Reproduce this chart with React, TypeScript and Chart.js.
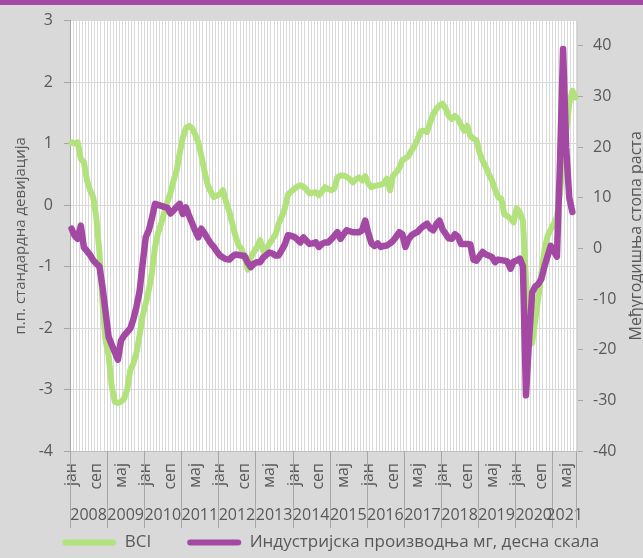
import { useEffect, useRef } from 'react';
import { Chart, registerables } from 'chart.js';

Chart.register(...registerables);

const MONTH_NAMES = ['јан', 'феб', 'мар', 'апр', 'мај', 'јун', 'јул', 'авг', 'сеп', 'окт', 'нов', 'дец'];
const YEARS = ['2008', '2009', '2010', '2011', '2012', '2013', '2014', '2015', '2016', '2017', '2018', '2019', '2020', '2021'];
const N_MONTHS = 164; // Jan 2008 – Aug 2021
const categories = Array.from({ length: N_MONTHS }, (_, i) => MONTH_NAMES[i % 12]);

const bci = [
  1.02, 1.00, 1.02, 0.75, 0.70, 0.40, 0.24, 0.13, -0.20, -0.75, -1.60, -2.20,
  -2.45, -2.95, -3.20, -3.22, -3.20, -3.15, -3.00, -2.68, -2.58, -2.40, -2.12, -1.80,
  -1.60, -1.38, -1.10, -0.68, -0.45, -0.30, -0.12, 0.05, 0.20, 0.40, 0.56, 0.85,
  1.10, 1.25, 1.29, 1.25, 1.15, 1.02, 0.80, 0.55, 0.33, 0.22, 0.13, 0.15,
  0.18, 0.24, 0.05, -0.10, -0.30, -0.50, -0.65, -0.72, -0.85, -1.05, -0.85, -0.76,
  -0.68, -0.57, -0.74, -0.70, -0.63, -0.55, -0.48, -0.30, -0.19, -0.05, 0.17, 0.22,
  0.26, 0.30, 0.32, 0.30, 0.25, 0.19, 0.20, 0.21, 0.16, 0.22, 0.29, 0.26,
  0.24, 0.27, 0.45, 0.48, 0.48, 0.46, 0.42, 0.37, 0.42, 0.45, 0.40, 0.47,
  0.35, 0.29, 0.31, 0.32, 0.33, 0.35, 0.43, 0.24, 0.48, 0.53, 0.60, 0.73,
  0.76, 0.80, 0.89, 0.97, 1.08, 1.20, 1.21, 1.19, 1.35, 1.48, 1.56, 1.62,
  1.65, 1.57, 1.45, 1.40, 1.45, 1.40, 1.30, 1.21, 1.29, 1.12, 1.08, 1.05,
  0.85, 0.72, 0.62, 0.50, 0.40, 0.25, 0.13, 0.10, -0.15, -0.18, -0.22, -0.28,
  -0.05, -0.12, -0.25, -1.20, -1.90, -2.25, -1.87, -1.50, -1.10, -0.72, -0.50, -0.40,
  -0.30, -0.19, 0.20, 0.75, 1.20, 1.65, 1.86, 1.75,
];

const industrialProduction = [
  3.9, 2.5, 1.9, 4.5, 0.2, -0.5, -1.3, -2.3, -3.0, -3.5, -7.5, -12.5,
  -17.5, -19.0, -20.5, -22.0, -18.2, -17.2, -16.5, -15.8, -14.0, -11.5, -8.5, -3.0,
  2.2, 3.6, 6.0, 8.8, 8.6, 8.4, 8.2, 8.0, 6.9, 7.5, 8.2, 8.8,
  6.8, 8.1, 6.5, 5.0, 3.5, 2.2, 3.9, 3.0, 2.0, 1.0, 0.3, -0.6,
  -1.4, -1.8, -2.1, -2.2, -1.6, -1.2, -1.3, -1.4, -1.5, -2.8, -3.7, -3.0,
  -2.7, -2.7, -1.8, -1.3, -0.8, -1.0, -1.4, -1.4, -0.3, 0.8, 2.6, 2.5,
  2.3, 1.8, 1.2, 2.2, 1.5, 0.9, 1.0, 1.2, 0.3, 0.9, 1.2, 1.2,
  1.8, 2.5, 3.2, 1.9, 2.8, 3.6, 3.4, 3.2, 3.2, 3.2, 3.6, 5.5,
  3.0, 1.0, 0.5, 1.0, 0.3, 0.5, 0.6, 1.0, 1.5, 2.3, 3.2, 2.8,
  0.3, 1.8, 2.6, 3.0, 3.3, 4.0, 4.5, 4.9, 4.0, 3.6, 4.8, 5.5,
  3.8, 2.9, 2.0, 1.9, 2.8, 2.3, 0.9, 0.9, 0.9, 0.8, -2.2, -2.4,
  -1.5, -0.7, -1.2, -1.4, -1.7, -2.7, -2.2, -2.3, -2.4, -2.6, -4.0, -2.6,
  -2.4, -2.0, -3.5, -29.0, -18.0, -8.7, -7.5, -7.0, -6.0, -3.5, -1.5, 0.5,
  -0.5, -1.6, 17.0, 39.4, 20.0, 10.0, 7.2, null,
];

const leftTicks = [-4, -3, -2, -1, 0, 1, 2, 3];
const rightTicks = [-40, -30, -20, -10, 0, 10, 20, 30, 40];

const BCI_LABEL = 'BCI';
const IP_LABEL = 'Индустријска производња мг, десна скала';
const LEFT_TITLE = 'п.п. стандардна девијација';
const RIGHT_TITLE = 'Међугодишња стопа раста';

const FONT = 'Open Sans';
const TEXT = '#595959';
const GREEN = '#b2e27b';
const PURPLE = '#a349a4';
const PAD_LEFT = 18.5;

const framePlugin = {
  id: 'frame',
  beforeDraw(chart: any) {
    const { ctx, chartArea: a, width, height } = chart;
    ctx.save();
    ctx.fillStyle = '#d9d9d9';
    ctx.fillRect(0, 0, width, height);
    ctx.fillStyle = PURPLE;
    ctx.fillRect(0, 0, width, 5);
    ctx.fillStyle = '#ffffff';
    ctx.fillRect(a.left, a.top, a.right - a.left, a.bottom - a.top);
    ctx.restore();
  },
  afterDraw(chart: any) {
    const { ctx, chartArea: a } = chart;
    const xs = chart.scales.x;
    const n = categories.length;
    const boundary = (i: number) =>
      i <= 0 ? a.left : i >= n ? a.right : (xs.getPixelForValue(i - 1) + xs.getPixelForValue(i)) / 2;
    ctx.save();
    ctx.strokeStyle = '#a6a6a6';
    ctx.lineWidth = 1;
    ctx.font = `16px "${FONT}"`;
    ctx.fillStyle = TEXT;
    ctx.textAlign = 'center';
    ctx.textBaseline = 'middle';
    YEARS.forEach((y, k) => {
      const s = boundary(k * 12);
      const e = boundary(Math.min((k + 1) * 12, n));
      ctx.beginPath();
      ctx.moveTo(Math.round(s) + 0.5, a.bottom);
      ctx.lineTo(Math.round(s) + 0.5, 528);
      ctx.stroke();
      ctx.fillText(y, (s + e) / 2, 515);
    });
    ctx.beginPath();
    ctx.moveTo(Math.round(a.right) - 0.5, a.bottom);
    ctx.lineTo(Math.round(a.right) - 0.5, 528);
    ctx.stroke();

    ctx.translate(636, (a.top + a.bottom) / 2);
    ctx.rotate(-Math.PI / 2);
    ctx.fillText(RIGHT_TITLE, 0, 0);
    ctx.restore();
  },
};

export default function App() {
  const ref = useRef<HTMLCanvasElement>(null);
  useEffect(() => {
    document.body.style.margin = '0';
    const chart = new Chart(ref.current as HTMLCanvasElement, {
      type: 'line',
      data: {
        labels: categories,
        datasets: [
          {
            label: BCI_LABEL,
            data: bci,
            borderColor: GREEN,
            backgroundColor: GREEN,
            borderWidth: 6,
            pointRadius: 0,
            tension: 0,
            borderJoinStyle: 'round',
            borderCapStyle: 'round',
            yAxisID: 'y',
            order: 1,
          },
          {
            label: IP_LABEL,
            data: industrialProduction,
            borderColor: PURPLE,
            backgroundColor: PURPLE,
            borderWidth: 6.5,
            pointRadius: 0,
            tension: 0,
            borderJoinStyle: 'round',
            borderCapStyle: 'round',
            yAxisID: 'y1',
            order: 0,
          },
        ],
      },
      options: {
        responsive: false,
        animation: false,
        layout: { padding: { top: 20, left: PAD_LEFT, right: 0, bottom: 0 } },
        plugins: {
          tooltip: { enabled: false },
          legend: {
            position: 'bottom',
            maxHeight: 60,
            labels: {
              boxWidth: 54,
              boxHeight: 6,
              padding: 36,
              color: TEXT,
              font: { family: FONT, size: 17 },
              generateLabels: (c: any) =>
                c.data.datasets.map((ds: any, i: number) => ({
                  text: ds.label,
                  fillStyle: ds.borderColor,
                  strokeStyle: ds.borderColor,
                  lineWidth: 0,
                  borderRadius: 3,
                  hidden: false,
                  datasetIndex: i,
                  fontColor: TEXT,
                })),
            },
          },
        },
        scales: {
          x: {
            type: 'category',
            offset: true,
            grid: { display: true, color: '#d9d9d9', offset: true, drawTicks: false },
            border: { display: true, color: '#bfbfbf' },
            ticks: {
              autoSkip: false,
              minRotation: 90,
              maxRotation: 90,
              padding: 12,
              color: TEXT,
              font: { family: FONT, size: 16 },
              callback: (_v: any, i: number) => (i % 8 === 0 ? categories[i] : ''),
            },
            afterFit: (s: any) => {
              s.height = 47;
            },
          },
          y: {
            type: 'linear',
            position: 'left',
            min: -4,
            max: 3,
            afterBuildTicks: (s: any) => {
              s.ticks = leftTicks.map((v) => ({ value: v }));
            },
            grid: { color: '#d9d9d9', tickColor: '#a6a6a6', tickLength: 6 },
            border: { display: true, color: '#a6a6a6' },
            ticks: { color: TEXT, padding: 11, font: { family: FONT, size: 16 } },
            title: {
              display: true,
              text: LEFT_TITLE,
              color: TEXT,
              font: { family: FONT, size: 15 },
              padding: { top: -6.5, bottom: 0 },
            },
            afterFit: (s: any) => {
              s.width = 70 - PAD_LEFT;
            },
          },
          y1: {
            type: 'linear',
            position: 'right',
            min: -40,
            max: 45,
            afterBuildTicks: (s: any) => {
              s.ticks = rightTicks.map((v) => ({ value: v }));
            },
            grid: { drawOnChartArea: false, tickColor: '#a6a6a6', tickLength: 6 },
            border: { display: true, color: '#d0d0d0' },
            ticks: { color: TEXT, padding: 10, font: { family: FONT, size: 16 } },
            afterFit: (s: any) => {
              s.width = 66;
            },
          },
        },
      },
      plugins: [framePlugin],
    } as any);
    return () => chart.destroy();
  }, []);
  return (
    <div style={{ position: 'relative', width: 643, height: 558 }}>
      <canvas ref={ref} width={643} height={558} />
    </div>
  );
}
